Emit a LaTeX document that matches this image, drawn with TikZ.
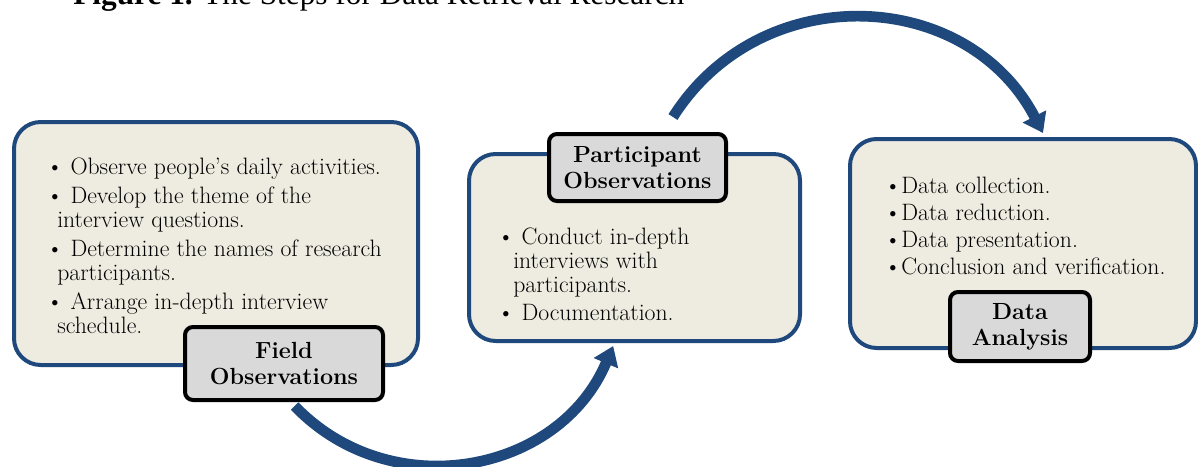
\documentclass[tikz,border=0pt]{standalone}
\usepackage{fontspec}
\newfontfamily\titlefont{Liberation Serif}
\usetikzlibrary{arrows.meta}
\definecolor{stepblue}{RGB}{31,73,125}
\definecolor{stepfill}{RGB}{238,236,225}
\definecolor{labelgray}{RGB}{217,217,217}

\begin{document}
\begin{tikzpicture}[x=0.75pt,y=0.75pt,yscale=-1,xscale=1,
  stepbox/.style={draw=stepblue,line width=3pt,fill=stepfill,rounded corners=20pt,inner sep=0pt},
  steplabel/.style={draw=black,line width=3pt,fill=labelgray,rounded corners=6pt,inner sep=0pt,align=center,font=\fontsize{17.5}{19.5}\selectfont\bfseries},
  steptext/.style={anchor=north west,inner sep=0pt,align=left,font=\fontsize{17.8}{18}\selectfont},
  flowarrow/.style={draw=stepblue,line width=8pt,-{Triangle[width=19pt,length=14pt]}}]
%set diagram size to the reference
\useasboundingbox (0,0) rectangle (1198,467);

% Title (cut at the top)
\node[anchor=base west,inner sep=0pt,font=\titlefont\fontsize{23.5}{28}\selectfont] (title) at (73,5) {\textbf{Figure 1.} The Steps for Data Retrieval Research};

%Shape: Rounded boxes
\node[stepbox,minimum width=303pt,minimum height=182.25pt] (fieldbox) at (216,243.5) {};
\node[stepbox,minimum width=248.25pt,minimum height=140.25pt] (partbox) at (634.5,247.5) {};
\node[stepbox,minimum width=259.5pt,minimum height=156.75pt] (databox) at (1023,243.5) {};

% Text Node
\node[steptext] (fieldtext) at (46,157.5) {\textbullet\ Observe people's daily activities.\\[3.75pt]
\textbullet\ Develop the theme of the\\
\hspace*{8.25pt}interview questions.\\[3.75pt]
\textbullet\ Determine the names of research\\
\hspace*{8.25pt}participants.\\[3.75pt]
\textbullet\ Arrange in-depth interview\\
\hspace*{8.25pt}schedule.};
% Text Node
\node[steptext] (parttext) at (497,227.5) {\textbullet\ Conduct in-depth\\
\hspace*{12pt}interviews with\\
\hspace*{12pt}participants.\\[3pt]
\textbullet\ Documentation.};
% Text Node
\node[steptext,font=\fontsize{17.8}{20.25}\selectfont] (datatext) at (884,177) {\textbullet Data collection.\\
\textbullet Data reduction.\\
\textbullet Data presentation.\\
\textbullet Conclusion and verification.};

%Shape: Step labels
\node[steplabel,minimum width=148.5pt,minimum height=54.75pt] (fieldlabel) at (284,363.5) {Field\\Observations};
\node[steplabel,minimum width=132.75pt,minimum height=50.25pt] (partlabel) at (637.5,167.5) {Participant\\Observations};
\node[steplabel,minimum width=105pt,minimum height=51.75pt] (datalabel) at (1020,326.5) {Data\\Analysis};

%Curved arrows
\draw[flowarrow] ([xshift=8pt,yshift=3pt]fieldlabel.south) .. controls +(96,100) and +(-54,128) .. ([xshift=-16pt,yshift=2.25pt]partbox.south);
\draw[flowarrow] ([xshift=26.6pt,yshift=-11.25pt]partlabel.north) .. controls +(88,-139) and +(-76,-146) .. ([xshift=15pt,yshift=-3pt]databox.north);

\end{tikzpicture}
\end{document}
